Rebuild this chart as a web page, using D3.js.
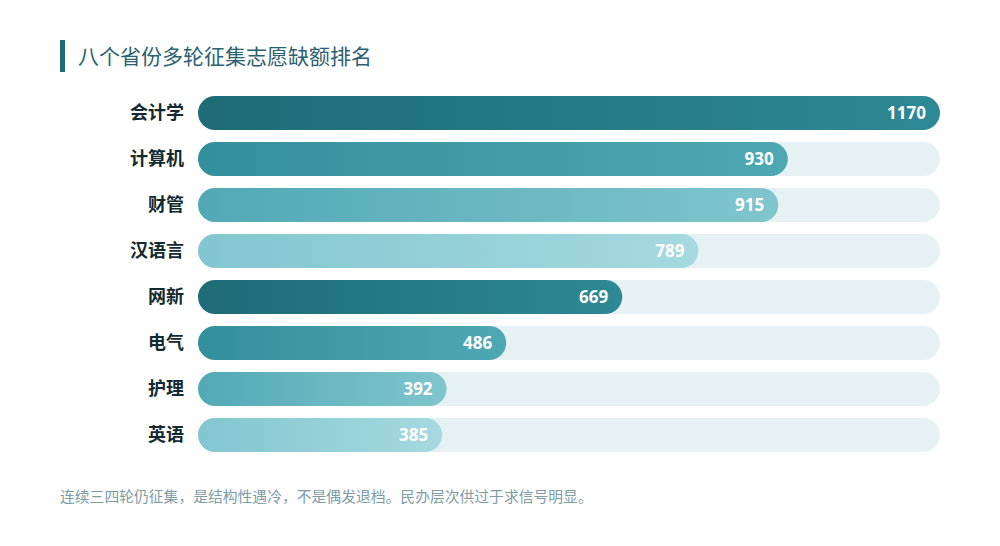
<!DOCTYPE html>
<html>
<head>
<meta charset="utf-8">
<script src="https://cdn.jsdelivr.net/npm/d3@7"></script>
<style>
  html, body { margin: 0; padding: 0; background: #fff; }
  body { width: 1000px; height: 546px; overflow: hidden; font-family: "Noto Sans CJK SC", "Noto Sans", sans-serif; }
</style>
</head>
<body>
<svg id="chart" width="1000" height="546"></svg>
<script>
(function () {
  'use strict';

  // Data.
  const TITLE = '八个省份多轮征集志愿缺额排名';
  const NOTE = '连续三四轮仍征集，是结构性遇冷，不是偶发退档。民办层次供过于求信号明显。';
  const majors = ['会计学', '计算机', '财管', '汉语言', '网新', '电气', '护理', '英语'];
  const gaps = [1170, 930, 915, 789, 669, 486, 392, 385];

  // Four gradient shades, cycled by row.
  const SHADES = [
    ['#1f6b78', '#2d8995'],
    ['#348f9c', '#4ea8b3'],
    ['#52a9b5', '#80c5cd'],
    ['#82c7d0', '#a6d9e0'],
  ];

  const plotLeft = 198, plotRight = 940;
  const plotTop = 96, rowStep = 46, barH = 34;

  const svg = d3.select('#chart');
  const defs = svg.append('defs');

  SHADES.forEach((s, i) => {
    const g = defs.append('linearGradient')
      .attr('id', 'grad' + i)
      .attr('x1', '0%').attr('x2', '100%').attr('y1', '0%').attr('y2', '0%');
    g.append('stop').attr('offset', '0%').attr('stop-color', s[0]);
    g.append('stop').attr('offset', '100%').attr('stop-color', s[1]);
  });

  // Title with accent bar.
  svg.append('rect').attr('x', 60).attr('y', 40).attr('width', 5).attr('height', 32).attr('fill', '#1f6b78');
  svg.append('text')
    .attr('x', 78).attr('y', 64)
    .attr('font-size', 21)
    .attr('fill', '#2c6270')
    .text(TITLE);

  const x = d3.scaleLinear().domain([0, d3.max(gaps)]).range([plotLeft, plotRight]);
  // step = rowStep exactly: the range stops at the last bar's bottom edge
  const y = d3.scaleBand().domain(majors)
    .range([plotTop, plotTop + rowStep * majors.length - (rowStep - barH)])
    .paddingInner((rowStep - barH) / rowStep)
    .paddingOuter(0)
    .align(0);

  const rows = svg.append('g').selectAll('g.row')
    .data(majors.map((m, i) => ({ m, v: gaps[i], i })))
    .join('g').attr('class', 'row')
    .attr('transform', d => `translate(0,${y(d.m)})`);

  // background track
  rows.append('rect')
    .attr('x', plotLeft).attr('y', 0)
    .attr('width', plotRight - plotLeft).attr('height', y.bandwidth())
    .attr('rx', y.bandwidth() / 2)
    .attr('fill', '#e5f1f3');

  // value bar
  rows.append('rect')
    .attr('x', plotLeft).attr('y', 0)
    .attr('width', d => x(d.v) - plotLeft).attr('height', y.bandwidth())
    .attr('rx', y.bandwidth() / 2)
    .attr('fill', d => `url(#grad${d.i % 4})`);

  // category labels
  rows.append('text')
    .attr('x', 184).attr('y', y.bandwidth() / 2)
    .attr('dy', '0.35em')
    .attr('text-anchor', 'end')
    .attr('font-size', 18).attr('font-weight', 700)
    .attr('fill', '#132a30')
    .text(d => d.m);

  // values inside bar end
  rows.append('text')
    .attr('x', d => x(d.v) - 14).attr('y', y.bandwidth() / 2)
    .attr('dy', '0.35em')
    .attr('text-anchor', 'end')
    .attr('font-family', '"Open Sans", "Noto Sans", sans-serif')
    .attr('font-size', 17).attr('font-weight', 700)
    .attr('fill', '#ffffff')
    .text(d => d.v);

  svg.append('text')
    .attr('x', 60).attr('y', 502)
    .attr('font-size', 14.8)
    .attr('fill', '#7d9ca4')
    .text(NOTE);
})();
</script>
</body>
</html>
